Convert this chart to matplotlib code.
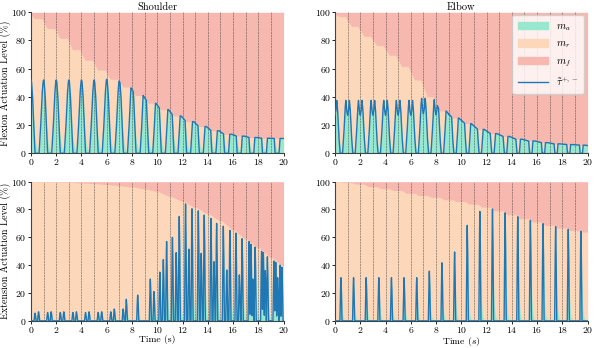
import matplotlib.pyplot as plt
import numpy as np
from matplotlib.patches import Patch
from matplotlib.lines import Line2D

plt.rcParams["font.family"] = "serif"
plt.rcParams["font.serif"] = ["cmr10"]
plt.rcParams["mathtext.fontset"] = "cm"
plt.rcParams["axes.formatter.use_mathtext"] = True
plt.rcParams["font.size"] = 7

# ---- values (percent) ----
# flexion pulses sit on whole seconds 0..20, extension pulses inside each second
sf_demand = [52, 52, 52, 52, 52, 52, 52.5, 52, 52, 52, 52, 52, 52, 52, 52,
             52, 52, 52, 52, 52, 52]
sf_level = [95.5, 88.5, 81.5, 73.5, 66, 59, 52.5, 47, 41, 35.5, 31, 26.5,
            22.5, 19, 16, 13.5, 12.2, 11.2, 10.7, 10.5, 10.5]

ef_demand = [37.5, 37.5, 37.5, 37.5, 37.5, 37.5, 37.5, 39, 38, 38, 38, 38,
             38, 38, 38, 38, 38, 38, 38, 38, 38]
ef_level = [97, 90, 83, 76.5, 69.5, 61.5, 52, 40, 30, 25, 21, 17, 14, 12, 10,
            8.8, 7.6, 6.7, 6.2, 5.8, 5]

se_times = [0.32, 0.6, 1.32, 1.6, 2.32, 2.6, 3.32, 3.6, 4.32, 4.6, 5.32, 5.6,
            6.32, 6.6, 7.3, 7.55, 8.45, 9.45, 9.74, 10.2, 10.48, 10.74, 11.2,
            11.5, 11.74, 12.24, 12.5, 12.75, 13.25, 13.48, 13.72, 14.25, 14.49,
            14.7, 15.23, 15.5, 15.75, 16.23, 16.5, 16.72, 17.27, 17.42, 17.57,
            17.75, 18.26, 18.4, 18.55, 18.72, 19.24, 19.38, 19.53, 19.72, 19.87]
se_peaks = [5.5, 6.5, 6, 6.5, 6, 6.5, 6, 6.5, 6, 6.5, 6, 6.5, 6.5, 8.5, 8.5,
            15.5, 18.5, 30, 21, 35, 44, 57, 60, 49, 75, 84, 51.5, 80.5, 79,
            48.5, 76, 73.5, 42.5, 70, 68, 36.5, 65, 63, 33, 59, 57, 55, 30, 53,
            50, 49, 36, 46, 43, 42, 31, 40, 38.5]
se_level = [100, 99.8, 99.5, 99, 98.6, 97.9, 97.1, 96.2, 94.8, 92.9, 89.5, 86,
            81.5, 77, 72, 65.5, 59, 52.5, 45.5, 39.5]

ee_peaks = [31, 31, 31, 31, 31, 31, 31, 35.7, 41.7, 49.5, 68.6, 78.6, 80.5,
            78, 75.7, 73, 70.2, 68.3, 66.2, 64.8]
ee_level = [99.3, 98.3, 96.4, 95, 93.6, 91.7, 90, 88.8, 87, 85.7, 83.8, 81.7,
            79, 76.2, 73.3, 71, 68.6, 66.7, 64.8, 63.8]

titles = ["Shoulder", "Elbow"]
ylabels = ["Flexion Actuation Level (%)", "Extension Actuation Level (%)"]
xlabels = ["Time (s)", r"Time ($s$)"]

c_active = "#97e8cf"
c_rest = "#fdd7b9"
c_fat = "#f7b8b0"
c_line = "#1f77b4"

t = np.linspace(0, 20, 8001)

# pulse shapes (offset from pulse centre, fraction of peak)
bump_x = [-0.36, -0.25, -0.12, -0.04, 0, 0.04, 0.12, 0.25, 0.32]
bump_y = [0, 0.3, 0.8, 0.98, 1, 0.98, 0.8, 0.25, 0]
m_x = [-0.4, -0.3, -0.2, -0.14, -0.07, 0, 0.07, 0.14, 0.2, 0.3, 0.4]
m_y = [0, 0.35, 0.85, 1.0, 0.8, 0.72, 0.8, 1.0, 0.85, 0.35, 0]
spike_x = [-0.08, -0.035, 0, 0.035, 0.08]
spike_y = [0, 0.75, 1, 0.75, 0]


def pulse_train(centers, heights, tx, ty):
    out = np.zeros_like(t)
    for c, h in zip(centers, heights):
        out = np.maximum(out, h * np.interp(t - c, tx, ty, left=0, right=0))
    return out


def envelope(centers, levels, half, shift=0.0):
    # hold the old level up to the pulse, the new one after it
    kx, ky = [-1.0], [100.0]
    prev = 100.0
    for c, lv in zip(centers, levels):
        kx += [c + shift - half, c + shift + half]
        ky += [prev, lv]
        prev = lv
    kx.append(21.0)
    ky.append(prev)
    return np.interp(t, kx, ky)


def lagged(x, tau):
    keep = np.exp(-(t[1] - t[0]) / tau)
    out = np.empty_like(x)
    acc = 0.0
    for i, v in enumerate(x):
        acc = max(v, acc * keep)
        out[i] = acc
    return out


flex_c = np.arange(21)
ext_c = np.arange(20) + 0.5

panels = []
bnd = envelope(flex_c, sf_level, 0.2, 0.08)
panels.append((np.minimum(pulse_train(flex_c, sf_demand, bump_x, bump_y), bnd), bnd, 0.14))
bnd = envelope(flex_c, ef_level, 0.25, 0.05)
panels.append((np.minimum(pulse_train(flex_c, ef_demand, m_x, m_y), bnd), bnd, 0.1))
bnd = envelope(ext_c, se_level, 0.4)
panels.append((np.minimum(pulse_train(se_times, se_peaks, spike_x, spike_y), bnd), bnd, 0.07))
bnd = envelope(ext_c - 0.03, ee_level, 0.15)
panels.append((np.minimum(pulse_train(ext_c - 0.03, ee_peaks, spike_x, spike_y), bnd), bnd, 0.07))

fig = plt.figure(figsize=(5.98, 3.48), dpi=100)
rects = [
    [0.0518, 0.5595, 0.4224, 0.4052],
    [0.5602, 0.5595, 0.4224, 0.4052],
    [0.0518, 0.0780, 0.4224, 0.4000],
    [0.5602, 0.0780, 0.4224, 0.4000],
]

for i, (rect, (act, bnd, tau)) in enumerate(zip(rects, panels)):
    ax = fig.add_axes(rect)
    ma = np.minimum(lagged(act, tau), bnd)

    ax.fill_between(t, 0, 100, color=c_fat, lw=0)
    ax.fill_between(t, 0, bnd, color=c_rest, lw=0)
    ax.fill_between(t, 0, ma, color=c_active, lw=0)
    ax.vlines(np.arange(1, 20), 0, 100, color="#222222", lw=0.5, alpha=0.55,
              linestyles=(0, (3, 1)), zorder=2)
    ax.plot(t, act, color=c_line, lw=1.0, zorder=3)

    ax.set_xlim(0, 20)
    ax.set_ylim(0, 100)
    ax.set_xticks(np.arange(0, 21, 2))
    ax.set_yticks(np.arange(0, 101, 20))
    ax.tick_params(length=2, width=0.6, pad=1.0, labelsize=7)
    for s in ["top", "right"]:
        ax.spines[s].set_visible(False)
    for s in ["left", "bottom"]:
        ax.spines[s].set_color("#444444")
        ax.spines[s].set_linewidth(0.8)

    if i < 2:
        ax.set_title(titles[i], fontsize=7.5, pad=2)
    if i % 2 == 0:
        ax.set_ylabel(ylabels[i // 2], fontsize=7.2)
        ax.yaxis.set_label_coords(-0.079, 0.5)
    if i >= 2:
        ax.set_xlabel(xlabels[i - 2], fontsize=7.0)
        ax.xaxis.set_label_coords(0.5, -0.1)
    if i == 1:
        handles = [Patch(color=c_active), Patch(color=c_rest), Patch(color=c_fat),
                   Line2D([], [], color=c_line, lw=1.0)]
        labels = [r"$m_a$", r"$m_r$", r"$m_f$", r"$\tilde{\tau}^{+,-}$"]
        ax.legend(handles, labels, loc="upper right", fontsize=7.5,
                  handlelength=2.8, labelspacing=0.6, borderpad=0.6,
                  borderaxespad=0.3, framealpha=0.8)

fig.savefig("out.png", dpi=100)
